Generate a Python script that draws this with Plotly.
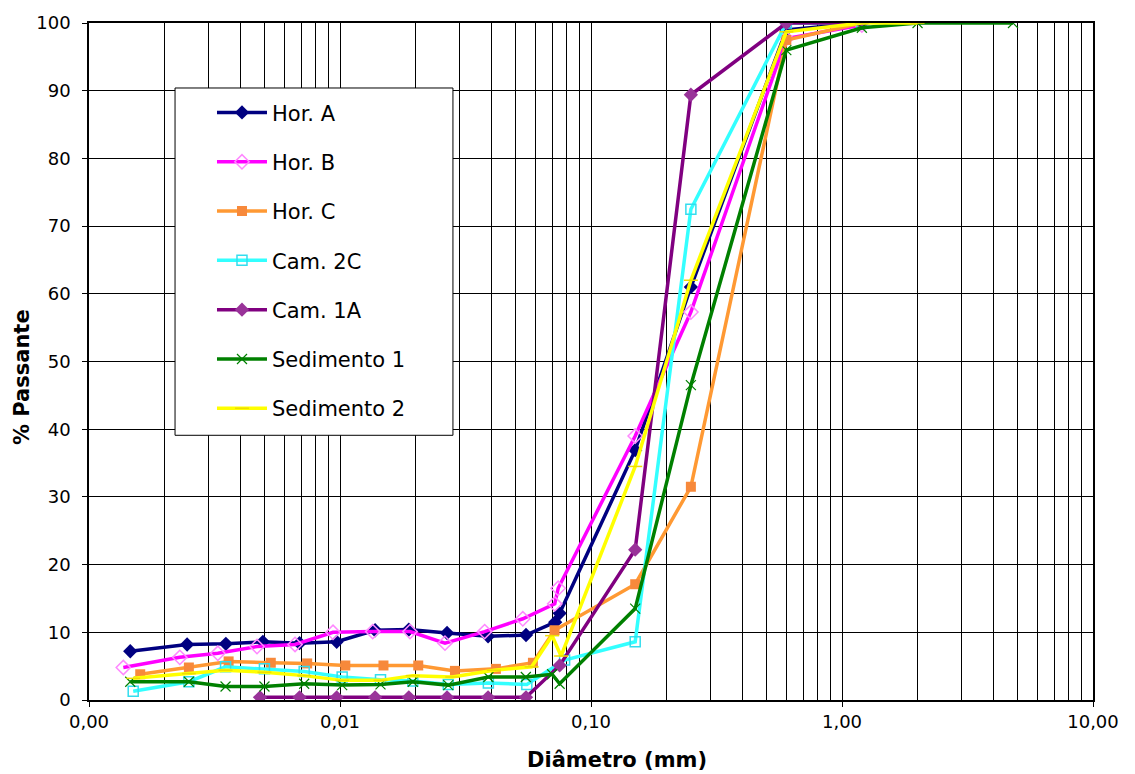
import plotly.graph_objects as go

# ---------------- data ----------------
series_names = ["Hor. A", "Hor. B", "Hor. C", "Cam. 2C", "Cam. 1A", "Sedimento 1", "Sedimento 2"]

d_hor_a = [0.00146, 0.00246, 0.00351, 0.00493, 0.0069, 0.0097, 0.0138, 0.0188, 0.0267, 0.0389, 0.0551, 0.072, 0.075, 0.15, 0.25, 0.6, 1.2]
p_hor_a = [7.2, 8.2, 8.3, 8.6, 8.4, 8.6, 10.3, 10.4, 9.9, 9.4, 9.6, 11.5, 12.8, 36.9, 61.0, 99.0, 100]

d_hor_b = [0.00137, 0.0023, 0.00326, 0.00467, 0.00662, 0.00938, 0.0135, 0.019, 0.0262, 0.0377, 0.0535, 0.0717, 0.074, 0.15, 0.25, 0.6, 1.2]
p_hor_b = [4.8, 6.3, 6.9, 7.9, 8.2, 10.0, 10.1, 10.1, 8.4, 10.1, 12.0, 14.2, 16.5, 39.0, 57.3, 97.7, 99.7]

d_hor_c = [0.0016, 0.0025, 0.0036, 0.0053, 0.0074, 0.0105, 0.0149, 0.0205, 0.0287, 0.0418, 0.0587, 0.0716, 0.15, 0.25, 0.6, 1.2]
p_hor_c = [3.8, 4.8, 5.7, 5.5, 5.4, 5.1, 5.1, 5.1, 4.3, 4.6, 5.5, 10.3, 17.1, 31.5, 97.5, 100]

d_cam_2c = [0.0015, 0.0025, 0.0035, 0.005, 0.0072, 0.0102, 0.0145, 0.0195, 0.027, 0.039, 0.0555, 0.0785, 0.15, 0.25, 0.6, 1.2]
p_cam_2c = [1.3, 2.7, 4.9, 4.6, 4.2, 3.4, 3.0, 2.8, 2.3, 2.5, 2.3, 5.9, 8.6, 72.5, 100, 100]

d_cam_1a = [0.0048, 0.0069, 0.0097, 0.0138, 0.0188, 0.0267, 0.0389, 0.0551, 0.075, 0.15, 0.25, 0.6, 1.2]
p_cam_1a = [0.4, 0.4, 0.4, 0.4, 0.4, 0.4, 0.4, 0.4, 5.1, 22.2, 89.4, 100, 100]

d_sed_1 = [0.00146, 0.0025, 0.0035, 0.005, 0.0072, 0.0102, 0.0145, 0.0195, 0.027, 0.039, 0.055, 0.07, 0.075, 0.15, 0.25, 0.6, 1.2, 2.0, 4.8]
p_sed_1 = [2.7, 2.7, 2.0, 2.0, 2.4, 2.2, 2.3, 2.7, 2.2, 3.4, 3.4, 3.8, 2.4, 13.5, 46.5, 96.0, 99.3, 100, 100]

d_sed_2 = [0.0015, 0.0025, 0.0035, 0.005, 0.0072, 0.0102, 0.0145, 0.0195, 0.028, 0.041, 0.058, 0.07, 0.076, 0.15, 0.25, 0.6, 1.2, 2.0]
p_sed_2 = [3.2, 3.9, 4.4, 4.1, 3.6, 2.9, 2.9, 3.6, 3.4, 4.4, 4.9, 9.5, 6.5, 34.5, 62.0, 98.7, 100, 100]

x_tick_vals = [0.001, 0.01, 0.1, 1, 10]
x_tick_text = ["0,00", "0,01", "0,10", "1,00", "10,00"]
y_tick_vals = [0, 10, 20, 30, 40, 50, 60, 70, 80, 90, 100]

x_title = "Diâmetro (mm)"
y_title = "% Passante"

# ---------------- styles ----------------
styles = [
    dict(line="#000080", marker=dict(symbol="diamond", color="#000080", size=11)),
    dict(line="#FF00FF", marker=dict(symbol="diamond-open", color="#FF88FF", size=11, line=dict(width=1.5))),
    dict(line="#FF9933", marker=dict(symbol="square", color="#F7893B", size=10)),
    dict(line="#33FFFF", marker=dict(symbol="square-open", color="#33DDEE", size=10, line=dict(width=1.5))),
    dict(line="#800080", marker=dict(symbol="diamond", color="#993399", size=11)),
    dict(line="#008000", marker=dict(symbol="x-thin-open", color="#008000", size=10, line=dict(width=1.2))),
    dict(line="#FFFF00", marker=dict(symbol="line-ew-open", color="#EEDD00", size=10, line=dict(width=1.5))),
]

data_x = [d_hor_a, d_hor_b, d_hor_c, d_cam_2c, d_cam_1a, d_sed_1, d_sed_2]
data_y = [p_hor_a, p_hor_b, p_hor_c, p_cam_2c, p_cam_1a, p_sed_1, p_sed_2]

fig = go.Figure()
for i, (name, xs, ys, st) in enumerate(zip(series_names, data_x, data_y, styles)):
    fig.add_trace(go.Scatter(
        x=xs, y=ys, name=name, mode="lines+markers",
        line=dict(color=st["line"], width=3.5),
        marker=st["marker"],
        legendgroup=f"g{i}",
    ))

minor_vals = [m * 10 ** e for e in range(-3, 1) for m in range(2, 10)]

font_family = "DejaVu Sans, Liberation Sans, Arial, sans-serif"

fig.update_layout(
    width=1135, height=774,
    margin=dict(l=81, r=50, t=15, b=82, autoexpand=False),
    paper_bgcolor="white", plot_bgcolor="white",
    font=dict(family=font_family, color="black", size=18),
    showlegend=True,
    legend=dict(
        x=0.1225, y=0.8976, xanchor="left", yanchor="top",
        bgcolor="rgba(0,0,0,0)", borderwidth=0,
        font=dict(size=21, family=font_family),
        itemwidth=50, tracegroupgap=19, traceorder="grouped",
    ),
    shapes=[dict(
        type="rect", xref="paper", yref="paper",
        x0=0.0857, x1=0.3625, y0=0.391, y1=0.904,
        line=dict(color="black", width=1), fillcolor="white", layer="above",
    )],
    annotations=[
        dict(text=f"<b>{x_title}</b>", xref="paper", yref="paper", x=0.526, y=-0.0886,
             xanchor="center", yanchor="middle", showarrow=False, font=dict(size=21)),
        dict(text=f"<b>{y_title}</b>", xref="paper", yref="paper", x=-0.0667, y=0.477,
             xanchor="center", yanchor="middle", showarrow=False, textangle=-90, font=dict(size=21)),
    ],
)

fig.update_xaxes(
    type="log", range=[-3, 1], automargin=False,
    tickvals=x_tick_vals, ticktext=x_tick_text,
    showgrid=True, gridcolor="black", gridwidth=1,
    minor=dict(tickvals=minor_vals, showgrid=True, gridcolor="black", gridwidth=1, ticks=""),
    showline=True, linecolor="black", linewidth=1.5, mirror=True,
    ticks="outside", ticklen=5, tickcolor="black",
    tickfont=dict(size=18),
    zeroline=False,
)
fig.update_yaxes(
    range=[0, 100], tickvals=y_tick_vals, automargin=False,
    showgrid=True, gridcolor="black", gridwidth=1,
    showline=True, linecolor="black", linewidth=1.5, mirror=True,
    ticks="outside", ticklen=5, tickcolor="black",
    ticklabelstandoff=8,
    tickfont=dict(size=18),
    zeroline=False,
)

fig.write_html("out.html")
